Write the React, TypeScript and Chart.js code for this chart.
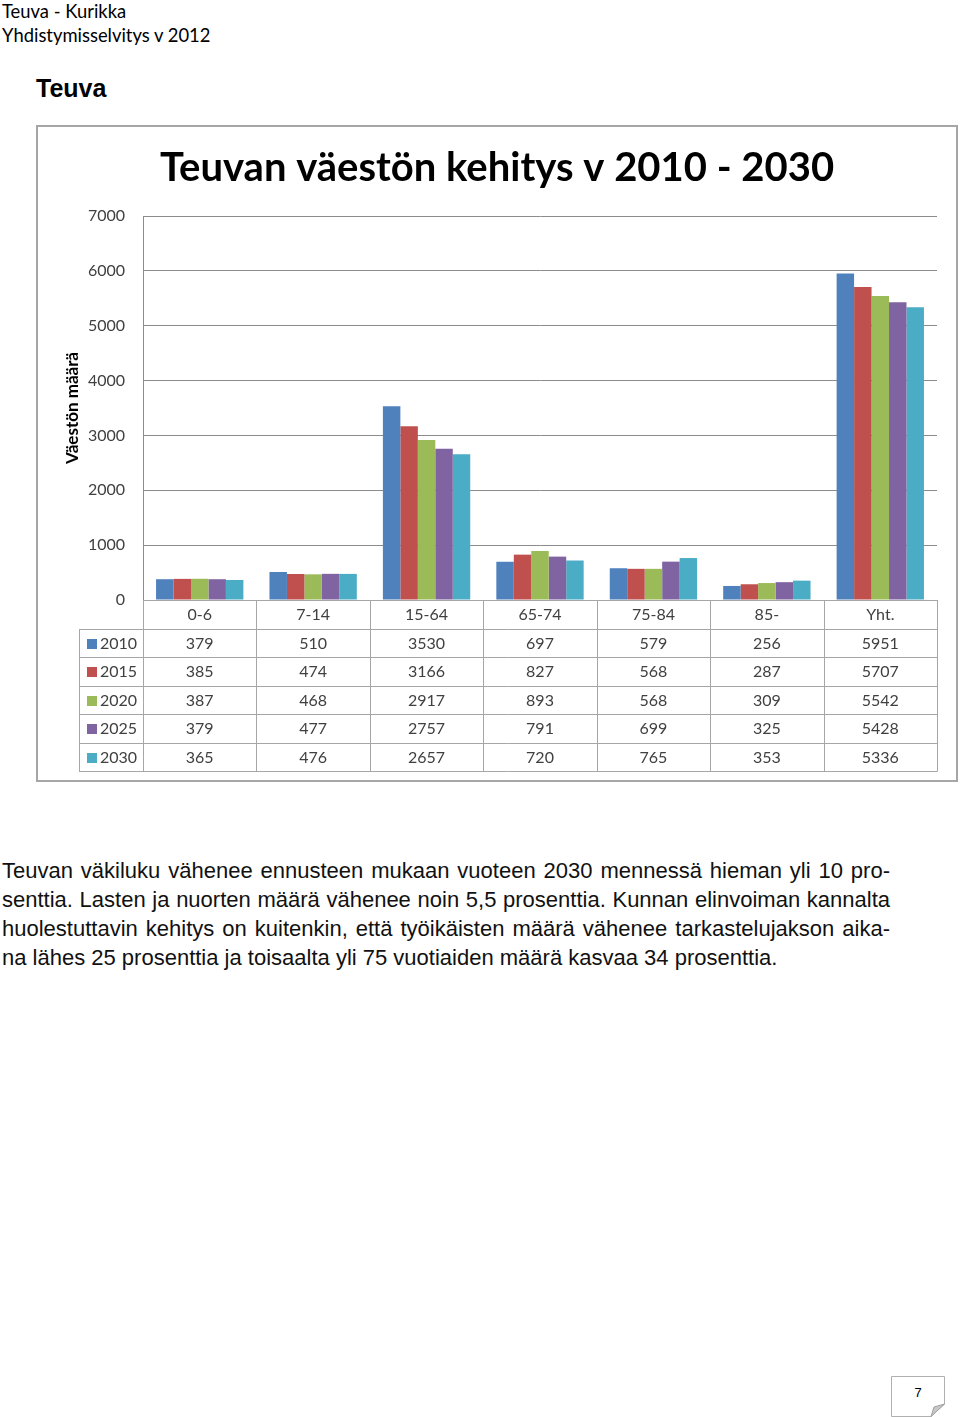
import React, { useEffect, useRef } from "react";
import { Chart, registerables } from "chart.js";

Chart.register(...registerables);

const categories = ["0-6", "7-14", "15-64", "65-74", "75-84", "85-", "Yht."];
const years = ["2010", "2015", "2020", "2025", "2030"];
const values2010 = [379, 510, 3530, 697, 579, 256, 5951];
const values2015 = [385, 474, 3166, 827, 568, 287, 5707];
const values2020 = [387, 468, 2917, 893, 568, 309, 5542];
const values2025 = [379, 477, 2757, 791, 699, 325, 5428];
const values2030 = [365, 476, 2657, 720, 765, 353, 5336];
const seriesValues = [values2010, values2015, values2020, values2025, values2030];
const seriesColors = ["#4F81BD", "#C0504D", "#9BBB59", "#8064A2", "#4BACC6"];
const yMin = 0;
const yMax = 7000;
const yStep = 1000;

const chartTitle = "Teuvan väestön kehitys v 2010 - 2030";
const yAxisTitle = "Väestön määrä";

const paragraphLines = [
  "Teuvan väkiluku vähenee ennusteen mukaan vuoteen 2030 mennessä hieman yli 10 pro-",
  "senttia. Lasten ja nuorten määrä vähenee noin 5,5 prosenttia. Kunnan elinvoiman kannalta",
  "huolestuttavin kehitys on kuitenkin, että työikäisten määrä vähenee tarkastelujakson aika-",
  "na lähes 25 prosenttia ja toisaalta yli 75 vuotiaiden määrä kasvaa 34 prosenttia.",
];

const FONT = "Lato, 'Open Sans', sans-serif";
const TEXT_COLOR = "#404040";
const LINE_COLOR = "#a6a6a6";
const TABLE_LEFT = 41;
const ROW_H = 28.5;

const tablePlugin = {
  id: "dataTable",
  afterDraw(chart: any) {
    const { ctx, chartArea } = chart;
    const xs = chart.scales.x;
    const n = categories.length;
    const cw = (chartArea.right - chartArea.left) / n;
    const top = chartArea.bottom;
    const rows = 1 + years.length;
    const bottom = top + rows * ROW_H;
    ctx.save();
    ctx.strokeStyle = LINE_COLOR;
    ctx.lineWidth = 1;
    ctx.beginPath();
    for (let r = 0; r <= rows; r++) {
      const y = Math.round(top + r * ROW_H) + 0.5;
      const x0 = r === 0 ? chartArea.left : TABLE_LEFT;
      ctx.moveTo(x0, y);
      ctx.lineTo(Math.round(chartArea.right) + 0.5, y);
    }
    for (let i = 0; i <= n; i++) {
      const x = Math.round(chartArea.left + i * cw) + 0.5;
      ctx.moveTo(x, top);
      ctx.lineTo(x, Math.round(bottom) + 0.5);
    }
    ctx.moveTo(TABLE_LEFT + 0.5, Math.round(top + ROW_H) + 0.5);
    ctx.lineTo(TABLE_LEFT + 0.5, Math.round(bottom) + 0.5);
    ctx.stroke();

    ctx.fillStyle = TEXT_COLOR;
    ctx.font = `16px ${FONT}`;
    ctx.textAlign = "center";
    ctx.textBaseline = "middle";
    categories.forEach((c, i) => {
      ctx.fillText(c, xs.getPixelForValue(i), top + ROW_H / 2 + 1);
    });
    years.forEach((yr, r) => {
      const cy = top + (r + 1) * ROW_H + ROW_H / 2 + 1;
      ctx.fillStyle = seriesColors[r];
      ctx.fillRect(TABLE_LEFT + 8, Math.round(cy - 5), 10, 10);
      ctx.fillStyle = TEXT_COLOR;
      ctx.textAlign = "left";
      ctx.fillText(yr, TABLE_LEFT + 21, cy);
      ctx.textAlign = "center";
      seriesValues[r].forEach((v, i) => {
        ctx.fillText(String(v), xs.getPixelForValue(i), cy);
      });
    });
    ctx.restore();
  },
};

function ChartBox() {
  const ref = useRef<HTMLCanvasElement>(null);
  useEffect(() => {
    if (!ref.current) return;
    const chart = new Chart(ref.current, {
      type: "bar",
      data: {
        labels: categories,
        datasets: years.map((yr, i) => ({
          label: yr,
          data: seriesValues[i],
          backgroundColor: seriesColors[i],
          borderWidth: 0,
          categoryPercentage: 0.77,
          barPercentage: 1.0,
        })),
      },
      options: {
        animation: false,
        responsive: false,
        maintainAspectRatio: false,
        layout: { padding: { left: 0, right: 0, top: 0, bottom: 180 } },
        plugins: {
          legend: { display: false },
          tooltip: { enabled: false },
          title: {
            display: true,
            text: chartTitle,
            color: "#000000",
            font: { family: FONT, size: 40, weight: "bold", lineHeight: 1.2 },
            padding: { top: 17, bottom: 24 },
          },
        },
        scales: {
          x: { display: false },
          y: {
            min: yMin,
            max: yMax,
            afterFit(scale: any) {
              scale.width = 105;
            },
            ticks: {
              stepSize: yStep,
              color: TEXT_COLOR,
              padding: 18,
              font: { family: FONT, size: 16 },
              callback: (v: any) => String(v),
            },
            grid: { color: "#8c8c8c", lineWidth: 1, drawTicks: false },
            border: { display: true, color: "#8c8c8c" },
            title: {
              display: true,
              text: yAxisTitle,
              color: "#000000",
              font: { family: FONT, size: 17, weight: "bold", lineHeight: 1.2 },
              padding: { top: 24, bottom: 0 },
            },
          },
          yRightSpace: {
            position: "right",
            display: true,
            min: yMin,
            max: yMax,
            afterFit(scale: any) {
              scale.width = 19;
            },
            ticks: { display: false },
            grid: { display: false, drawTicks: false },
            border: { display: false },
          },
        },
      },
      plugins: [tablePlugin],
    });
    return () => chart.destroy();
  }, []);
  return <canvas ref={ref} width={918} height={653} style={{ display: "block" }} />;
}

export default function App() {
  return (
    <div style={{ position: "absolute", left: 0, top: 0, width: 960, height: 1417, background: "#fff", overflow: "hidden" }}>
      <div style={{ position: "absolute", left: 2, top: -1, fontFamily: FONT, fontSize: 18.4, lineHeight: "24px", color: "#000" }}>
        <div>Teuva - Kurikka</div>
        <div>Yhdistymisselvitys v 2012</div>
      </div>
      <div style={{ position: "absolute", left: 36, top: 73, fontFamily: "'Liberation Sans', Arial, sans-serif", fontWeight: "bold", fontSize: 25, lineHeight: "30px", color: "#000" }}>
        Teuva
      </div>
      <div style={{ position: "absolute", left: 36, top: 125, width: 922, height: 657, border: "2px solid #a6a6a6", boxSizing: "border-box", background: "#fff" }}>
        <ChartBox />
      </div>
      <div style={{ position: "absolute", left: 2, top: 856, width: 888, fontFamily: "'Liberation Sans', Arial, sans-serif", fontSize: 22, lineHeight: "29px", color: "#111", whiteSpace: "nowrap" }}>
        {paragraphLines.map((l, i) => (
          <div
            key={i}
            style={{
              textAlign: i < paragraphLines.length - 1 ? "justify" : "left",
              textAlignLast: i < paragraphLines.length - 1 ? "justify" : "left",
              whiteSpace: "normal",
            }}
          >
            {l}
          </div>
        ))}
      </div>
      <div style={{ position: "absolute", left: 891, top: 1376, width: 54, height: 41 }}>
        <svg width={54} height={41} style={{ display: "block" }}>
          <path d="M0.5 0.5 H53.5 V28 L40 40.5 H0.5 Z" fill="#fff" stroke="#b0b0b0" strokeWidth={1} />
          <path d="M53.5 28 L40 40.5 L43 31 Z" fill="#c8c8c8" stroke="#a0a0a0" strokeWidth={1} />
          <text x={27} y={21} textAnchor="middle" fontFamily="'Liberation Sans', Arial, sans-serif" fontSize={13} fill="#000">7</text>
        </svg>
      </div>
    </div>
  );
}
